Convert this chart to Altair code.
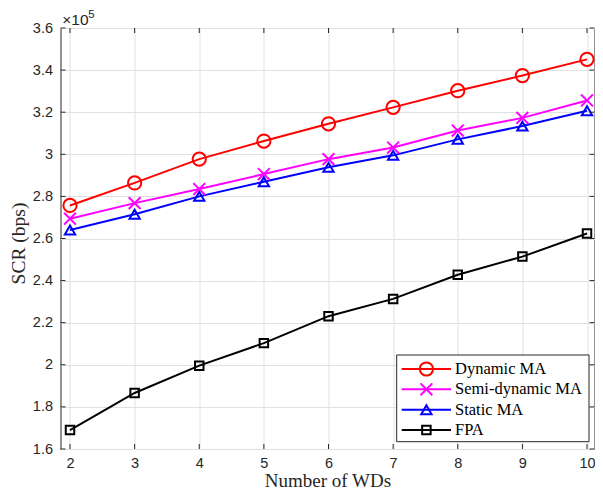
import altair as alt
import pandas as pd

# ---------------- data ----------------
wds = [2, 3, 4, 5, 6, 7, 8, 9, 10]
series_names = ["Dynamic MA", "Semi-dynamic MA", "Static MA", "FPA"]
dynamic_ma = [2.757, 2.864, 2.977, 3.063, 3.145, 3.223, 3.302, 3.374, 3.451]
semi_dynamic_ma = [2.694, 2.768, 2.835, 2.906, 2.977, 3.032, 3.113, 3.173, 3.256]
static_ma = [2.640, 2.715, 2.800, 2.870, 2.938, 2.995, 3.071, 3.134, 3.207]
fpa = [1.690, 1.866, 1.996, 2.103, 2.231, 2.313, 2.428, 2.514, 2.624]
y_ticks = [1.6, 1.8, 2.0, 2.2, 2.4, 2.6, 2.8, 3.0, 3.2, 3.4, 3.6]

colors = ["#ff0000", "#ff00ff", "#0000ff", "#000000"]
shapes = ["circle", "M-1,-1L1,1M-1,1L1,-1", "triangle-up", "square"]
sizes = [175, 72, 215, 85]

rows = []
for name, vals in zip(series_names, [dynamic_ma, semi_dynamic_ma, static_ma, fpa]):
    for w, v in zip(wds, vals):
        rows.append({"series": name, "WDs": w, "SCR": v})
df = pd.DataFrame(rows)

W, H = 534, 421
AX = "#262626"
GRID = "#e0e0e0"
SANS = "Liberation Sans"
SERIF = "Liberation Serif"

xscale = alt.Scale(domain=[1.853, 10.116], nice=False, zero=False)
yscale = alt.Scale(domain=[1.6, 3.6], nice=False, zero=False)

x_axis = alt.Axis(values=wds, format="d", grid=True, gridColor=GRID, gridWidth=1, domain=False, ticks=False,
                  labelFont=SANS, labelFontSize=14.5, labelColor=AX, labelPadding=7,
                  title="Number of WDs", titleFont=SERIF, titleFontSize=19, titleFontWeight="normal",
                  titleColor=AX, titleY=37.5, titleBaseline="alphabetic")
y_axis = alt.Axis(values=y_ticks, format=".1~f", grid=True, gridColor=GRID, gridWidth=1, domain=False,
                  ticks=False, labelFont=SANS, labelFontSize=14.5, labelColor=AX, labelPadding=8,
                  title="SCR (bps)", titleFont=SERIF, titleFontSize=19.5, titleFontWeight="normal",
                  titleColor=AX, titleX=-42, titleY=215, titleBaseline="middle", titleAngle=-90)

color_enc = alt.Color("series:N", scale=alt.Scale(domain=series_names, range=colors), legend=None)
shape_enc = alt.Shape("series:N", scale=alt.Scale(domain=series_names, range=shapes), legend=None)
size_enc = alt.Size("series:O", scale=alt.Scale(domain=series_names, range=sizes), legend=None)

base = alt.Chart(df)
lines = base.mark_line(strokeWidth=2).encode(
    x=alt.X("WDs:Q", scale=xscale, axis=x_axis),
    y=alt.Y("SCR:Q", scale=yscale, axis=y_axis),
    color=color_enc,
    detail="series:N",
)
points = base.mark_point(filled=False, strokeWidth=2, opacity=1).encode(
    x=alt.X("WDs:Q", scale=xscale),
    y=alt.Y("SCR:Q", scale=yscale),
    color=color_enc, shape=shape_enc, size=size_enc,
)

# inward ticks on all four sides
xt = alt.Chart(pd.DataFrame({"WDs": wds}))
yt = alt.Chart(pd.DataFrame({"SCR": y_ticks}))
tick_bottom = xt.mark_rule(color=AX, strokeWidth=1).encode(
    x=alt.X("WDs:Q", scale=xscale), y=alt.value(H), y2=alt.value(H - 5))
tick_top = xt.mark_rule(color=AX, strokeWidth=1).encode(
    x=alt.X("WDs:Q", scale=xscale), y=alt.value(0), y2=alt.value(5))
tick_left = yt.mark_rule(color=AX, strokeWidth=1).encode(
    y=alt.Y("SCR:Q", scale=yscale), x=alt.value(0), x2=alt.value(5))
tick_right = yt.mark_rule(color=AX, strokeWidth=1).encode(
    y=alt.Y("SCR:Q", scale=yscale), x=alt.value(W - 5), x2=alt.value(W))

main = alt.layer(lines, points, tick_bottom, tick_top, tick_left, tick_right)

# exponent label
one = alt.Chart(pd.DataFrame({"series": series_names})).transform_aggregate(n="count()")
exp_base = one.mark_text(align="left", baseline="alphabetic", font=SANS, fontSize=15.5, color=AX,
                         text="\u00d710").encode(x=alt.value(1.8), y=alt.value(-3))
exp_sup = one.mark_text(align="left", baseline="alphabetic", font=SANS, fontSize=11.5, color=AX,
                        text="5").encode(x=alt.value(27.8), y=alt.value(-9.7))

# custom legend
leg_df = pd.DataFrame({"series": series_names})
ly = alt.Y("series:N", scale=alt.Scale(type="point", domain=series_names, range=[341, 402], paddingOuter=0),
           axis=None)
leg_box = one.mark_rect(fill="white", stroke=AX, strokeWidth=1).encode(
    x=alt.value(336.2), x2=alt.value(528.5), y=alt.value(327), y2=alt.value(413.7))
leg_lines = alt.Chart(leg_df).mark_rule(strokeWidth=2).encode(
    x=alt.value(341.2), x2=alt.value(390.5), y=ly, color=color_enc)
leg_points = alt.Chart(leg_df).mark_point(filled=False, strokeWidth=2, opacity=1).encode(
    x=alt.value(365.9), y=ly, color=color_enc, shape=shape_enc, size=size_enc)
leg_text = alt.Chart(leg_df).mark_text(align="left", baseline="middle", font=SERIF, fontSize=16.5,
                                       color="black").encode(
    x=alt.value(394.5), y=ly, text="series:N")

legend = alt.layer(leg_box, leg_lines, leg_points, leg_text, exp_base, exp_sup)

chart = alt.layer(main, legend).resolve_scale(y="independent").properties(
    width=W, height=H,
    padding={"left": 52.5, "top": 20, "right": 0.5, "bottom": 41},
    autosize=alt.AutoSizeParams(type="none"),
    background="white",
).configure_view(stroke=AX, strokeWidth=1).configure_scale(pointPadding=0)

chart.save("out.html", embed_options={"renderer": "svg", "actions": False})
